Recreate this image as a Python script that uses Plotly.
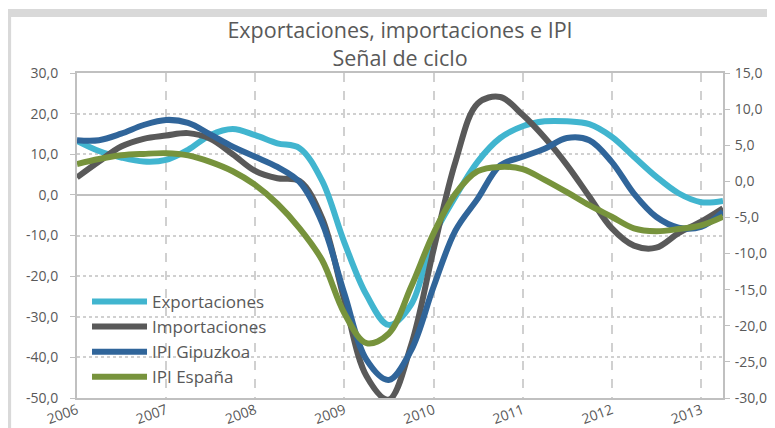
import pandas as pd
import plotly.graph_objects as go

# quarterly points, Jan 2006 .. Apr 2013
fechas = pd.date_range("2006-01-01", periods=30, freq="QS").strftime("%Y-%m-%d").tolist()

# left axis
exportaciones = [13.3, 10.8, 9.2, 8.2, 8.6, 11.1, 14.7, 16.2, 14.7, 12.7,
                 11.5, 3.5, -11.8, -24.6, -32.0, -27.0, -10.2, -0.4, 8.2, 14.0,
                 16.9, 18.1, 18.1, 17.4, 14.3, 9.4, 4.5, 0.4, -1.8, -1.5]
importaciones = [4.3, 8.2, 11.9, 13.8, 14.6, 15.2, 13.8, 10.0, 5.9, 4.1,
                 3.4, -5.7, -26.0, -44.6, -50.4, -37.0, -13.5, 8.2, 22.5, 24.1,
                 19.7, 14.1, 7.4, -0.4, -8.2, -12.5, -13.0, -9.4, -6.6, -3.3]
# right axis
ipi_gipuzkoa = [5.7, 5.7, 6.6, 7.8, 8.5, 8.1, 6.5, 4.8, 3.4, 2.0,
                -0.1, -5.7, -15.6, -24.7, -27.5, -23.4, -14.6, -6.8, -2.4, 2.2,
                3.4, 4.5, 6.0, 5.7, 2.7, -1.7, -4.9, -6.4, -6.3, -4.2]
ipi_espana = [2.4, 3.1, 3.6, 3.8, 3.9, 3.6, 2.7, 1.4, -0.5, -3.1,
              -6.5, -10.9, -18.3, -22.4, -21.1, -14.6, -7.2, -1.7, 1.4, 2.0,
              1.7, 0.2, -1.5, -3.3, -4.9, -6.5, -6.9, -6.6, -6.1, -4.9]

left_ticks = [30, 20, 10, 0, -10, -20, -30, -40, -50]
right_ticks = [15, 10, 5, 0, -5, -10, -15, -20, -25, -30]

def fmt(v):
    return f"{v:.1f}".replace(".", ",")

TXT = "#595959"
GRID = "#d0d0d0"
AXIS = "#c0c0c0"

fig = go.Figure()
series = [
    ("Exportaciones", exportaciones, "#41b5cf", "y"),
    ("Importaciones", importaciones, "#595959", "y"),
    ("IPI Gipuzkoa", ipi_gipuzkoa, "#30659a", "y2"),
    ("IPI España", ipi_espana, "#77933c", "y2"),
]
for name, vals, color, ax in series:
    fig.add_trace(go.Scatter(
        x=fechas, y=vals, name=name, yaxis=ax, mode="lines",
        line=dict(color=color, width=6, shape="spline", smoothing=1),
    ))

# grey frame bands around the chart
band = "#d9d9d9"
fig.add_shape(type="rect", xref="paper", yref="paper", x0=-0.2, x1=1.2,
              y0=1.172, y1=1.197, fillcolor=band, line_width=0, layer="below")
fig.add_shape(type="rect", xref="paper", yref="paper", x0=-0.2, x1=-0.102,
              y0=-0.2, y1=1.172, fillcolor=band, line_width=0, layer="below")

# page body has an 8px margin, so the figure is 8px smaller than the window
fig.update_layout(
    width=767, height=420,
    margin=dict(l=69, r=52, t=65, b=30, autoexpand=False),
    paper_bgcolor="white", plot_bgcolor="white",
    font=dict(family="Open Sans", color=TXT, size=14),
    title=dict(text="Exportaciones, importaciones e IPI<br>Señal de ciclo",
               x=0.5, xref="paper", xanchor="center",
               y=0.929, yref="container", yanchor="top",
               font=dict(size=21.5, color=TXT)),
    showlegend=True,
    legend=dict(x=0.0155, y=0.351, xanchor="left", yanchor="top",
                bgcolor="rgba(0,0,0,0)", font=dict(size=17, color=TXT),
                tracegroupgap=0, itemwidth=55),
    xaxis=dict(range=["2006-01-01", "2013-04-01"], dtick="M12", tick0="2006-01-01",
               tickformat="%Y", tickangle=-20, showgrid=True, gridcolor=GRID,
               griddash="dash", gridwidth=1.5, showline=True, linecolor=AXIS,
               linewidth=2, mirror=True, ticks="", automargin=False,
               ticklabelstandoff=-3, tickfont=dict(size=14, color=TXT)),
    yaxis=dict(range=[-50, 30], tickvals=left_ticks,
               ticktext=[fmt(v) for v in left_ticks], showgrid=True,
               gridcolor=GRID, griddash="dot", gridwidth=1.5, zeroline=True,
               zerolinecolor=AXIS, zerolinewidth=2, showline=True, linecolor=AXIS,
               linewidth=2, ticks="outside", ticklen=5, tickcolor=AXIS,
               ticklabelstandoff=9, automargin=False,
               tickfont=dict(size=14, color=TXT)),
    yaxis2=dict(range=[-30, 15], tickvals=right_ticks,
                ticktext=[fmt(v) for v in right_ticks], overlaying="y",
                side="right", showgrid=False, zeroline=False, showline=True,
                linecolor=AXIS, linewidth=2, ticks="outside", ticklen=5,
                tickcolor=AXIS, ticklabelstandoff=2, automargin=False,
                tickfont=dict(size=14, color=TXT)),
)

fig.write_html("out.html")
